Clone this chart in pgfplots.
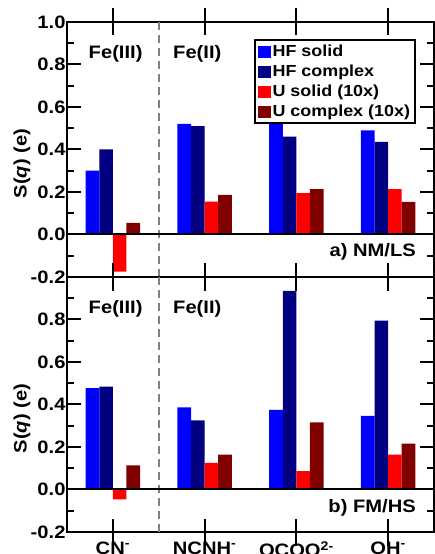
\documentclass[border=0pt]{standalone}
\usepackage{fontspec}
\setmainfont[FakeStretch=1.12]{Liberation Sans}
\usepackage{pgfplots}
\usepackage{pgfplotstable}
\pgfplotsset{compat=1.18}

\definecolor{hfsolid}{RGB}{0,0,255}
\definecolor{hfcomplex}{RGB}{0,0,128}
\definecolor{usolid}{RGB}{255,0,0}
\definecolor{ucomplex}{RGB}{128,0,0}

% NM/LS
\pgfplotstableread{
x hfs hfc us uc
0 0.30 0.40 -0.175 0.055
1 0.52 0.51 0.155 0.186
2 0.52 0.46 0.195 0.214
3 0.49 0.436 0.214 0.154
}\nmls
% FM/HS
\pgfplotstableread{
x hfs hfc us uc
0 0.477 0.484 -0.047 0.114
1 0.386 0.325 0.125 0.164
2 0.375 0.935 0.086 0.316
3 0.347 0.795 0.164 0.216
}\fmhs

\pgfplotsset{
  panel/.style={
    scale only axis, width=367pt, height=255pt,
    xmin=-0.5, xmax=3.5, ymin=-0.2, ymax=1.0,
    ybar=0pt, bar width=0.148,
    xtick={0,1,2,3},
    ytick={-0.2,0,0.2,0.4,0.6,0.8,1.0},
    minor y tick num=1,
    axis line style={line width=2pt},
    every tick/.append style={black, line width=2pt},
    tickwidth=14pt, subtickwidth=7pt,
    every axis/.append style={font=\bfseries\fontsize{18}{21}\selectfont},
    ylabel={S(\textit{q}) (e)},
    ylabel style={at={(axis description cs:-0.123,0.445)}, anchor=center},
    yticklabel style={xshift=2pt},
    xticklabel style={yshift=8pt},
    legend image code/.code={\fill[##1] (0pt,-6pt) rectangle (13pt,6pt);},
  },
}
\tikzset{
  sepline/.style={gray, line width=1.5pt, dash pattern=on 8pt off 5pt},
  tk/.style={black, line width=2pt},
}
% tick marks on all four sides of a panel, drawn in axis units
\newcommand\panelticks{%
  \pgfplotsinvokeforeach{-0.2,0,0.2,0.4,0.6,0.8,1.0}{
    \draw[tk] (axis cs:-0.5,##1) -- (axis cs:-0.347,##1);
    \draw[tk] (axis cs:3.5,##1) -- (axis cs:3.347,##1);
  }
  \pgfplotsinvokeforeach{-0.1,0.1,0.3,0.5,0.7,0.9}{
    \draw[tk] (axis cs:-0.5,##1) -- (axis cs:-0.424,##1);
    \draw[tk] (axis cs:3.5,##1) -- (axis cs:3.424,##1);
  }
  \pgfplotsinvokeforeach{0,1,2,3}{
    \draw[tk] (axis cs:##1,-0.2) -- (axis cs:##1,-0.139);
    \draw[tk] (axis cs:##1,1.0) -- (axis cs:##1,0.939);
  }
}

\begin{document}
\begin{tikzpicture}
\useasboundingbox (0,0) rectangle (435pt,554pt);

\begin{axis}[panel, at={(67pt,277pt)}, anchor=south west,
  xticklabels={},
  yticklabels={-0.2,0.0,0.2,0.4,0.6,0.8,1.0},
  legend style={at={(0.951,0.933)}, anchor=north east, draw=black,
    line width=2pt, font=\bfseries\fontsize{16}{18}\selectfont,
    cells={anchor=west}, inner xsep=3pt, inner ysep=3pt, row sep=3pt},
]
\addplot[fill=hfsolid, draw=none] table[x=x, y=hfs] {\nmls};
\addplot[fill=hfcomplex, draw=none] table[x=x, y=hfc] {\nmls};
\addplot[fill=usolid, draw=none] table[x=x, y=us] {\nmls};
\addplot[fill=ucomplex, draw=none] table[x=x, y=uc] {\nmls};
\legend{HF solid, HF complex, U solid (10x), U complex (10x)}
\draw[sepline] (axis cs:0.5,-0.2) -- (axis cs:0.5,1.0);
\draw[line width=2pt] (axis cs:-0.5,0) -- (axis cs:3.5,0);
\panelticks
\node at (axis cs:0.03,0.85) {Fe(III)};
\node at (axis cs:0.92,0.85) {Fe(II)};
\node[anchor=east] at (axis cs:3.34,-0.08) {a) NM/LS};
\end{axis}

\begin{axis}[panel, at={(67pt,22pt)}, anchor=south west,
  xticklabels={CN\textsuperscript{-}, NCNH\textsuperscript{-}, OCOO\textsuperscript{2-}, OH\textsuperscript{-}},
  yticklabels={-0.2,0.0,0.2,0.4,0.6,0.8,{}},
]
\addplot[fill=hfsolid, draw=none] table[x=x, y=hfs] {\fmhs};
\addplot[fill=hfcomplex, draw=none] table[x=x, y=hfc] {\fmhs};
\addplot[fill=usolid, draw=none] table[x=x, y=us] {\fmhs};
\addplot[fill=ucomplex, draw=none] table[x=x, y=uc] {\fmhs};
\draw[sepline] (axis cs:0.5,-0.2) -- (axis cs:0.5,1.0);
\draw[line width=2pt] (axis cs:-0.5,0) -- (axis cs:3.5,0);
\panelticks
\node at (axis cs:0.03,0.85) {Fe(III)};
\node at (axis cs:0.92,0.85) {Fe(II)};
\node[anchor=east] at (axis cs:3.34,-0.085) {b) FM/HS};
\end{axis}
\end{tikzpicture}
\end{document}
